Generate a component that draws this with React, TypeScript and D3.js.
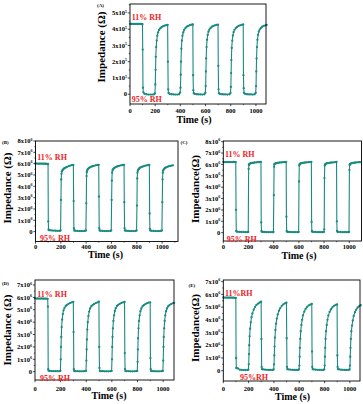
import React from "react";
import * as d3 from "d3";

// shared sampling times (s)
const time = [
  0, 10, 20, 30, 40, 50, 60, 70, 80, 90, 99,
  101, 103, 106,
  115, 130, 145, 160, 175, 190, 198,
  201, 203, 205, 208, 212, 217, 223, 230, 240, 250, 262, 275, 288, 299,
  301, 303, 306,
  315, 330, 345, 360, 375, 390, 398,
  401, 403, 405, 408, 412, 417, 423, 430, 440, 450, 462, 475, 488, 499,
  501, 503, 506,
  515, 530, 545, 560, 575, 590, 598,
  601, 603, 605, 608, 612, 617, 623, 630, 640, 650, 662, 675, 688, 699,
  701, 703, 706,
  715, 730, 745, 760, 775, 790, 798,
  801, 803, 805, 808, 812, 817, 823, 830, 840, 850, 862, 875, 888, 899,
  901, 903, 906,
  915, 930, 945, 960, 975, 990, 998,
  1001, 1003, 1005, 1008, 1012, 1017, 1023, 1030, 1040, 1050, 1062, 1075, 1085,
];

// impedance, x10^5 ohm
const impedanceA = [
  4.33, 4.32, 4.33, 4.32, 4.32, 4.33, 4.32, 4.32, 4.33, 4.32, 4.31,
  2.75, 0.4, 0.12,
  0.03, 0.0, -0.02, -0.02, -0.02, -0.01, 0.05,
  0.6, 1.5, 2.3, 2.9, 3.3, 3.6, 3.8, 3.95, 4.05, 4.12, 4.18, 4.22, 4.25, 4.27,
  2.0, 0.3, 0.08,
  0.02, 0.0, -0.01, -0.02, -0.02, 0.0, 0.1,
  0.4, 1.2, 2.0, 2.8, 3.3, 3.6, 3.8, 3.95, 4.07, 4.15, 4.2, 4.25, 4.28, 4.29,
  1.17, 0.25, 0.06,
  0.02, 0.0, -0.01, -0.01, -0.02, 0.0, 0.08,
  0.5, 1.4, 2.2, 2.9, 3.35, 3.65, 3.85, 3.98, 4.08, 4.15, 4.2, 4.24, 4.27, 4.28,
  1.75, 0.3, 0.06,
  0.02, 0.0, -0.01, -0.01, -0.02, 0.0, 0.08,
  0.45, 1.3, 2.1, 2.85, 3.3, 3.62, 3.82, 3.96, 4.07, 4.14, 4.2, 4.24, 4.27, 4.29,
  1.17, 0.37, 0.08,
  0.02, 0.0, -0.01, -0.01, -0.02, 0.0, 0.08,
  0.5, 1.4, 2.2, 2.9, 3.35, 3.65, 3.85, 3.98, 4.08, 4.15, 4.2, 4.24, 4.26,
];

// impedance, x10^6 ohm
const impedanceB = [
  6.02, 6.01, 6.0, 6.0, 6.01, 6.0, 5.99, 6.0, 5.99, 5.98, 5.97,
  0.9, 0.2, 0.13,
  0.12, 0.1, 0.09, 0.08, 0.07, 0.07, 0.1,
  2.8, 4.6, 5.1, 5.3, 5.4, 5.48, 5.55, 5.6, 5.67, 5.72, 5.78, 5.83, 5.87, 5.9,
  2.7, 0.3, 0.1,
  0.08, 0.06, 0.05, 0.05, 0.05, 0.06, 0.1,
  2.5, 4.9, 5.25, 5.4, 5.5, 5.57, 5.63, 5.68, 5.73, 5.77, 5.81, 5.85, 5.88, 5.9,
  3.1, 0.3, 0.1,
  0.08, 0.06, 0.05, 0.05, 0.05, 0.06, 0.1,
  2.8, 4.5, 5.2, 5.4, 5.5, 5.57, 5.63, 5.68, 5.73, 5.77, 5.81, 5.85, 5.88, 5.9,
  2.6, 0.3, 0.1,
  0.08, 0.06, 0.05, 0.05, 0.05, 0.06, 0.1,
  2.3, 4.7, 5.2, 5.38, 5.48, 5.55, 5.62, 5.67, 5.72, 5.76, 5.8, 5.84, 5.87, 5.88,
  1.6, 0.25, 0.1,
  0.08, 0.06, 0.05, 0.05, 0.05, 0.06, 0.1,
  2.6, 4.6, 5.2, 5.38, 5.48, 5.55, 5.62, 5.67, 5.72, 5.76, 5.8, 5.83, 5.85,
];

const impedanceC = [
  6.22, 6.2, 6.21, 6.2, 6.22, 6.2, 6.21, 6.2, 6.22, 6.2, 6.21,
  2.0, 0.15, 0.1,
  0.08, 0.07, 0.06, 0.06, 0.05, 0.05, 0.06,
  5.6, 5.95, 6.0, 6.05, 6.08, 6.1, 6.12, 6.14, 6.15, 6.17, 6.18, 6.2, 6.2, 6.22,
  0.9, 0.15, 0.08,
  0.07, 0.06, 0.05, 0.05, 0.05, 0.05, 0.06,
  3.3, 5.8, 6.0, 6.05, 6.08, 6.1, 6.12, 6.14, 6.15, 6.17, 6.18, 6.2, 6.2, 6.22,
  1.4, 0.15, 0.08,
  0.07, 0.06, 0.05, 0.05, 0.05, 0.05, 0.06,
  4.5, 5.9, 6.0, 6.05, 6.08, 6.1, 6.12, 6.14, 6.15, 6.17, 6.18, 6.2, 6.2, 6.22,
  0.95, 0.15, 0.08,
  0.07, 0.06, 0.05, 0.05, 0.05, 0.05, 0.06,
  0.3, 4.8, 5.9, 6.0, 6.05, 6.08, 6.1, 6.12, 6.14, 6.15, 6.17, 6.18, 6.2, 6.22,
  1.0, 0.15, 0.08,
  0.07, 0.06, 0.05, 0.05, 0.05, 0.05, 0.06,
  5.5, 5.95, 6.0, 6.05, 6.08, 6.1, 6.12, 6.14, 6.15, 6.17, 6.18, 6.2, 6.2,
];

const impedanceD = [
  5.92, 5.9, 5.91, 5.9, 5.9, 5.91, 5.9, 5.89, 5.9, 5.9, 5.88,
  5.25, 0.2, 0.08,
  0.06, 0.05, 0.04, 0.04, 0.04, 0.04, 0.06,
  1.0, 2.0, 2.8, 3.6, 4.2, 4.65, 4.95, 5.15, 5.3, 5.4, 5.48, 5.55, 5.6, 5.63,
  3.2, 0.2, 0.05,
  0.04, 0.04, 0.03, 0.03, 0.03, 0.04, 0.06,
  0.9, 1.8, 2.6, 3.4, 4.0, 4.5, 4.85, 5.1, 5.28, 5.38, 5.47, 5.54, 5.6, 5.65,
  2.0, 0.3, 0.05,
  0.04, 0.04, 0.03, 0.03, 0.03, 0.04, 0.06,
  1.0, 2.0, 2.8, 3.5, 4.1, 4.55, 4.9, 5.12, 5.3, 5.4, 5.48, 5.55, 5.6, 5.63,
  1.5, 0.2, 0.05,
  0.04, 0.04, 0.03, 0.03, 0.03, 0.04, 0.06,
  0.8, 1.8, 2.7, 3.5, 4.1, 4.55, 4.88, 5.1, 5.28, 5.38, 5.46, 5.53, 5.58, 5.6,
  1.1, 0.2, 0.05,
  0.04, 0.04, 0.03, 0.03, 0.03, 0.04, 0.06,
  0.9, 2.0, 2.8, 3.5, 4.1, 4.55, 4.88, 5.1, 5.28, 5.38, 5.46, 5.52, 5.56,
];

const impedanceE = [
  5.76, 5.75, 5.75, 5.74, 5.75, 5.74, 5.75, 5.74, 5.74, 5.73, 5.73,
  1.0, 0.22, 0.2,
  0.18, 0.08, 0.06, 0.05, 0.05, 0.05, 0.08,
  0.5, 1.3, 2.0, 2.7, 3.3, 3.8, 4.2, 4.5, 4.8, 5.0, 5.17, 5.28, 5.36, 5.42,
  2.5, 0.3, 0.12,
  0.1, 0.08, 0.07, 0.06, 0.06, 0.06, 0.1,
  0.5, 1.2, 1.9, 2.6, 3.2, 3.7, 4.1, 4.42, 4.72, 4.92, 5.1, 5.22, 5.3, 5.35,
  2.55, 0.3, 0.12,
  0.1, 0.08, 0.07, 0.06, 0.06, 0.06, 0.1,
  0.4, 1.1, 1.8, 2.5, 3.1, 3.6, 4.0, 4.35, 4.65, 4.85, 5.02, 5.13, 5.2, 5.25,
  1.5, 0.3, 0.12,
  0.1, 0.08, 0.07, 0.06, 0.06, 0.06, 0.1,
  0.4, 1.1, 1.8, 2.5, 3.1, 3.6, 4.0, 4.33, 4.62, 4.82, 4.98, 5.1, 5.17, 5.22,
  1.2, 0.3, 0.12,
  0.1, 0.08, 0.07, 0.06, 0.06, 0.06, 0.1,
  0.4, 1.1, 1.8, 2.5, 3.1, 3.55, 3.95, 4.3, 4.6, 4.8, 4.97, 5.08, 5.15,
];

const xTicks = [0, 200, 400, 600, 800, 1000];
const yTicksA = [0, 1, 2, 3, 4, 5];
const yTicksBC = [0, 1, 2, 3, 4, 5, 6, 7, 8];
const yTicksDE = [0, 1, 2, 3, 4, 5, 6, 7];

const TEAL = "#1a8a80";
const RED = "#ee1c25";
const FONT = "'Liberation Serif', 'Times New Roman', serif";

const panels = [
  {
    tag: "(A)", tagPos: [97, 6.5], values: impedanceA, yTicks: yTicksA, exp: "5",
    x0: 130, x1: 266, y0: 4, y1: 104, xMax: 1080, yLo: -0.6, yHi: 5.55,
    yTitle: "Impedance (Ω)", yTitlePos: [101, 47], xTitlePos: [194, 123.3], xLabY: 113.3,
    hi: "11% RH", hiPos: [131.7, 20], lo: "95% RH", loPos: [131.7, 101.8],
  },
  {
    tag: "(B)", tagPos: [2, 143.5], values: impedanceB, yTicks: yTicksBC, exp: "6",
    x0: 35.5, x1: 178, y0: 141, y1: 241.5, xMax: 1125, yLo: -0.87, yHi: 8,
    yTitle: "Impedance (Ω)", yTitlePos: [7, 188], xTitlePos: [105.5, 258.3], xLabY: 249,
    hi: "11% RH", hiPos: [37.3, 160], lo: "95% RH", loPos: [40, 240.5],
  },
  {
    tag: "(C)", tagPos: [180.5, 143.5], values: impedanceC, yTicks: yTicksBC, exp: "6",
    x0: 223.3, x1: 361.5, y0: 141, y1: 241, xMax: 1097, yLo: -0.73, yHi: 8.06,
    yTitle: "Impedance(Ω)", yTitlePos: [195, 189], xTitlePos: [299, 259.3], xLabY: 249,
    hi: "11% RH", hiPos: [225, 156.8], lo: "95% RH", loPos: [226.7, 241.5],
  },
  {
    tag: "(D)", tagPos: [2, 284.5], values: impedanceD, yTicks: yTicksDE, exp: "6",
    x0: 35, x1: 174, y0: 280, y1: 380, xMax: 1085, yLo: -0.67, yHi: 7.4,
    yTitle: "Impedance (Ω)", yTitlePos: [7, 330], xTitlePos: [109, 399.3], xLabY: 390.5,
    hi: "11% RH", hiPos: [37.3, 296.8], lo: "95% RH", loPos: [40, 381],
  },
  {
    tag: "(E)", tagPos: [188.5, 287], values: impedanceE, yTicks: yTicksDE, exp: "6",
    x0: 223.3, x1: 360, y0: 280, y1: 381, xMax: 1080, yLo: -0.81, yHi: 7.13,
    yTitle: "Impedance(Ω)", yTitlePos: [195, 328], xTitlePos: [292.5, 400], xLabY: 390.5,
    hi: "11%RH", hiPos: [225, 295.5], lo: "95%RH", loPos: [240, 379.5],
  },
];

function Panel({ p }: { p: (typeof panels)[number] }) {
  const x = d3.scaleLinear().domain([0, p.xMax]).range([p.x0, p.x1]);
  const y = d3.scaleLinear().domain([p.yLo, p.yHi]).range([p.y1, p.y0]);
  const pts = time.map((t, i) => [t, p.values[i]] as [number, number]);
  const line = d3
    .line<[number, number]>()
    .x((d) => x(d[0]))
    .y((d) => y(d[1]));
  const xMinor = xTicks.map((t) => t + 100).filter((t) => t < p.xMax);
  const yMinor = p.yTicks.map((t) => t + 0.5).filter((t) => t < p.yHi);

  return (
    <g fontFamily={FONT} fontWeight="bold">
      <text x={p.tagPos[0]} y={p.tagPos[1]} fontSize={5}>
        {p.tag}
      </text>

      <path d={line(pts) ?? ""} fill="none" stroke={TEAL} strokeWidth={1.1} />
      {pts.map((d, i) => (
        <circle key={i} cx={x(d[0])} cy={y(d[1])} r={1.15} fill={TEAL} />
      ))}

      <rect
        x={p.x0}
        y={p.y0}
        width={p.x1 - p.x0}
        height={p.y1 - p.y0}
        fill="none"
        stroke="#000"
        strokeWidth={0.9}
      />

      {xTicks.map((t) => (
        <g key={t}>
          <line x1={x(t)} x2={x(t)} y1={p.y1} y2={p.y1 + 2.2} stroke="#000" strokeWidth={0.7} />
          <text x={x(t)} y={p.xLabY} fontSize={6.5} textAnchor="middle">
            {t}
          </text>
        </g>
      ))}
      {xMinor.map((t) => (
        <line key={t} x1={x(t)} x2={x(t)} y1={p.y1} y2={p.y1 + 1.2} stroke="#000" strokeWidth={0.6} />
      ))}

      {p.yTicks.map((t) => (
        <g key={t}>
          <line x1={p.x0 - 2.2} x2={p.x0} y1={y(t)} y2={y(t)} stroke="#000" strokeWidth={0.7} />
          <text x={p.x0 - 3} y={y(t) + 2.2} fontSize={6.5} textAnchor="end">
            {t === 0 ? (
              "0"
            ) : (
              <>
                {t}x10
                <tspan fontSize={4} dy={-2.6}>
                  {p.exp}
                </tspan>
              </>
            )}
          </text>
        </g>
      ))}
      {yMinor.map((t) => (
        <line key={t} x1={p.x0 - 1.2} x2={p.x0} y1={y(t)} y2={y(t)} stroke="#000" strokeWidth={0.6} />
      ))}

      <text
        transform={`translate(${p.yTitlePos[0]},${p.yTitlePos[1]}) rotate(-90)`}
        fontSize={11}
        textAnchor="middle"
        dy="0.35em"
      >
        {p.yTitle}
      </text>
      <text x={p.xTitlePos[0]} y={p.xTitlePos[1]} fontSize={10} textAnchor="middle">
        Time (s)
      </text>

      <text x={p.hiPos[0]} y={p.hiPos[1]} fontSize={8} fill={RED}>
        {p.hi}
      </text>
      <text x={p.loPos[0]} y={p.loPos[1]} fontSize={8} fill={RED}>
        {p.lo}
      </text>
    </g>
  );
}

export default function App() {
  return (
    <>
      <style>{`body{margin:0;background:#fff}`}</style>
      <svg width={363} height={404} style={{ display: "block" }}>
        <rect width={363} height={404} fill="#fff" />
        {panels.map((p) => (
          <Panel key={p.tag} p={p} />
        ))}
      </svg>
    </>
  );
}
